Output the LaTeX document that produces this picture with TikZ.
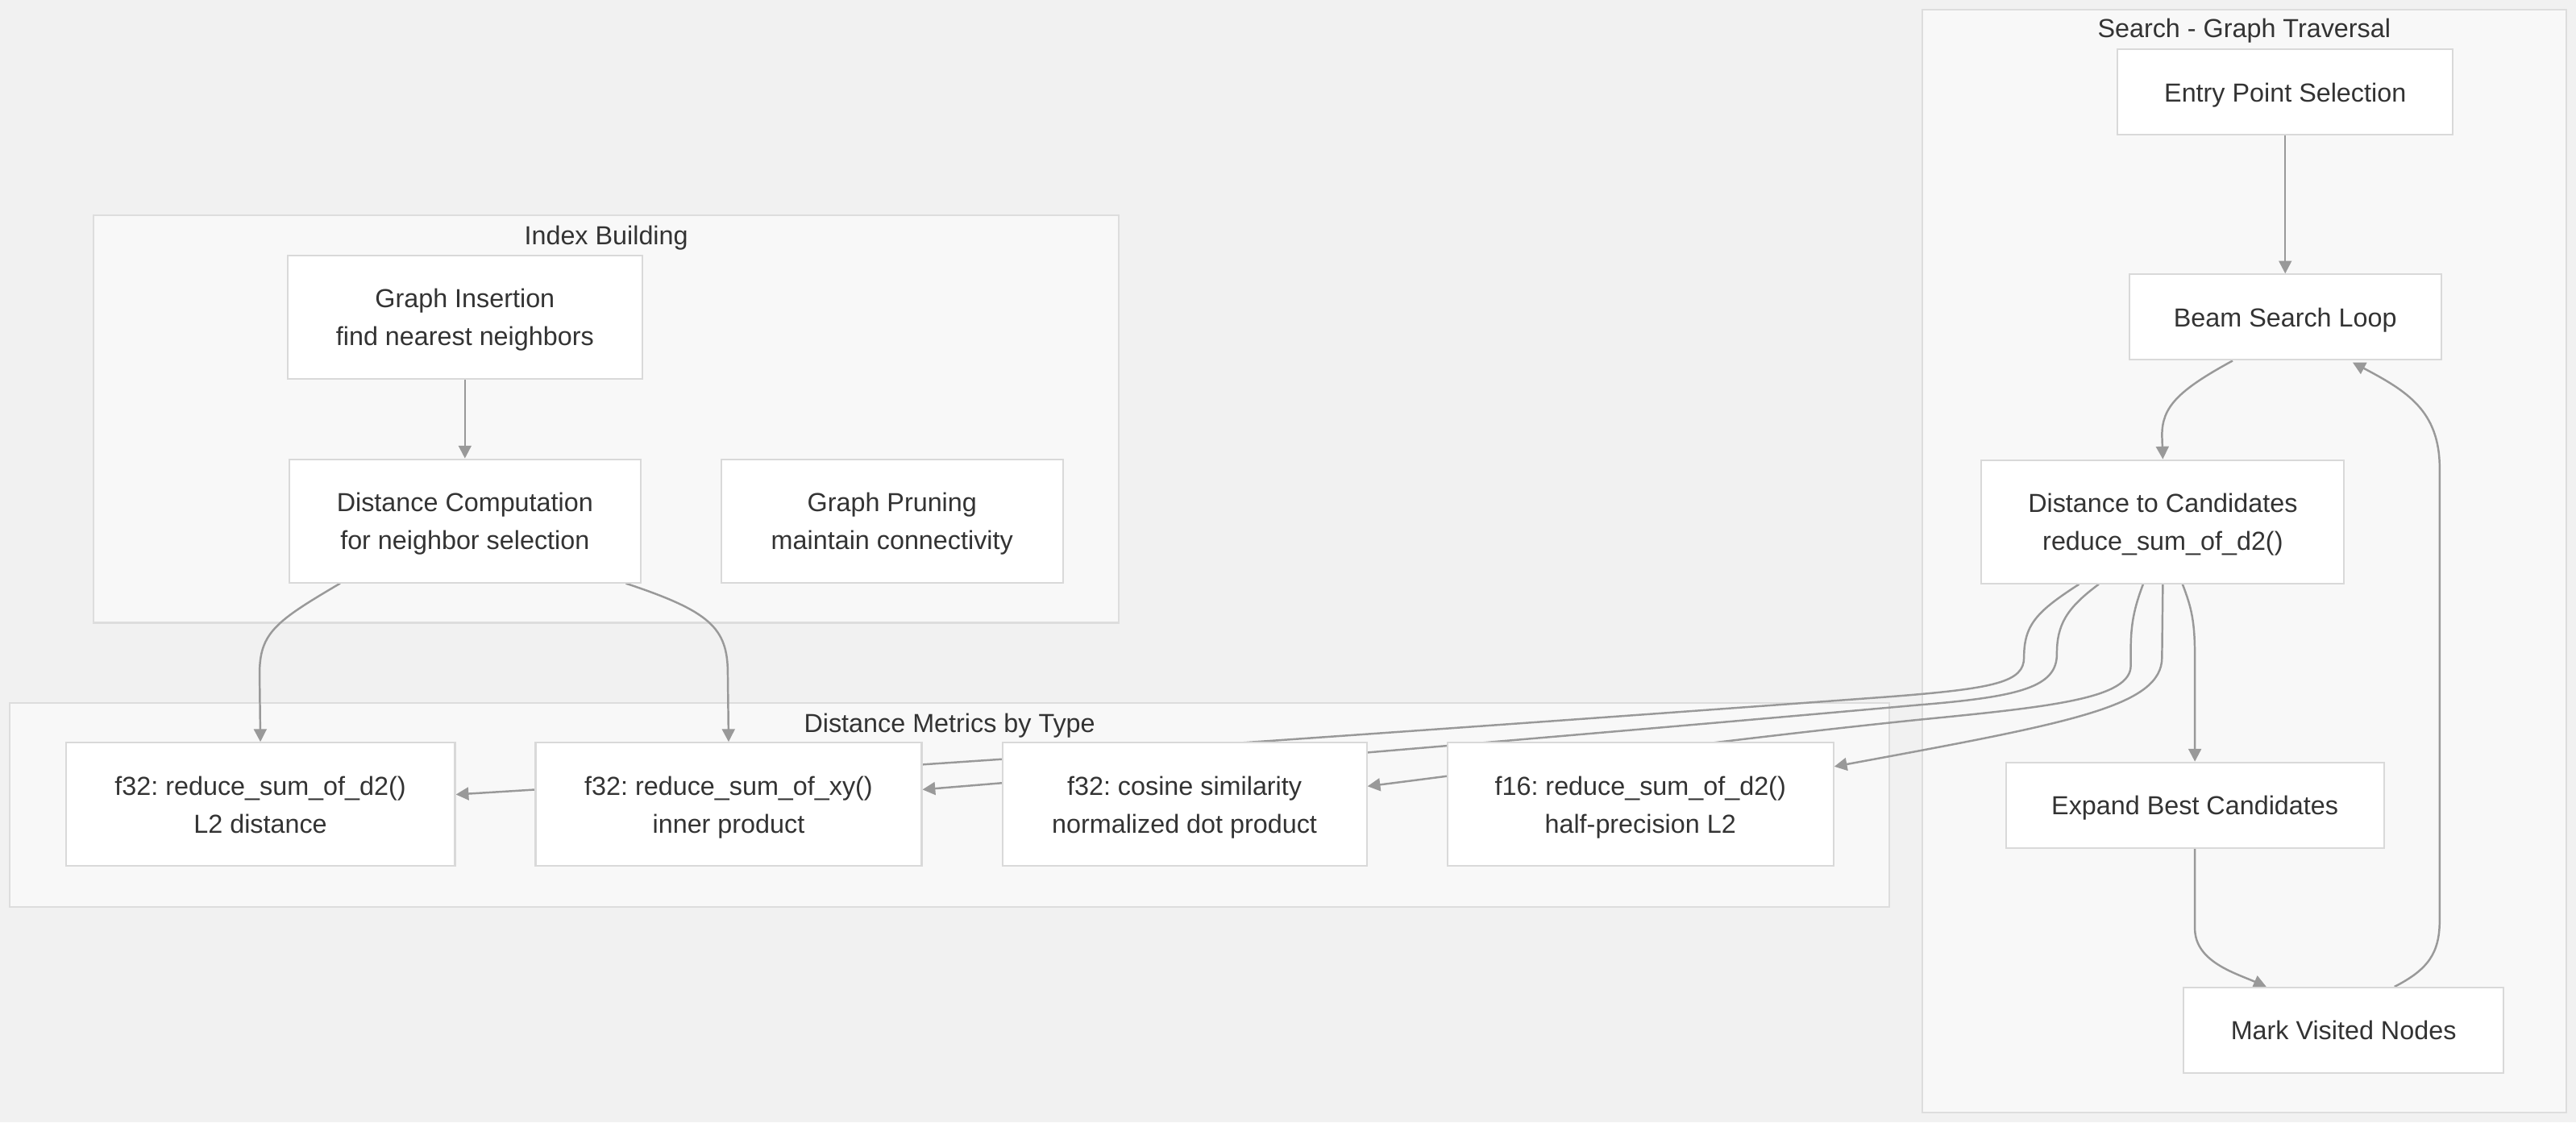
\documentclass[tikz,border=0pt]{standalone}
\usepackage{fontspec}
\setmainfont{Liberation Sans}
\usetikzlibrary{arrows.meta, calc}
\frenchspacing

\definecolor{bgcol}{HTML}{F1F1F1}
\definecolor{clfill}{HTML}{F8F8F8}
\definecolor{cldraw}{HTML}{DDDDDD}
\definecolor{boxdraw}{HTML}{D9D9D9}
\definecolor{txt}{HTML}{333333}
\definecolor{edgecol}{HTML}{999999}

\pgfdeclarelayer{bg}
\pgfdeclarelayer{edges}
\pgfsetlayers{bg,edges,main}

\begin{document}
\begin{tikzpicture}[x=0.02038cm, y=-0.02038cm,
    font={\fontsize{9.2}{13.3}\selectfont}, text=txt,
    box/.style={rectangle, draw=boxdraw, fill=white, line width=0.6pt, align=center, minimum height=1.53cm, inner sep=0pt,
        text height=21.7pt, text depth=1.6pt},
    lowbox/.style={box, minimum height=1.06cm, text height=8.4pt},
    title/.style={inner sep=0pt, text height=8.4pt, text depth=1.6pt},
    edge/.style={draw=edgecol, line width=0.7pt, -{Triangle[length=4.5pt, width=4.5pt]}},
    cluster/.style={draw=cldraw, fill=clfill, line width=0.6pt}]
    \useasboundingbox (0,0) rectangle (1568,683);

    % Clusters
    \begin{pgfonlayer}{bg}
        \fill[bgcol] (0,0) rectangle (1568,683);
        \draw[cluster] (57,131) rectangle (681,379);
        \draw[cluster] (6,428) rectangle (1150,552);
        \draw[cluster] (1170,6) rectangle (1562,677);
    \end{pgfonlayer}
    \node[title] (tidx) at (369,143) {Index Building};
    \node[title] (tmet) at (578,440) {Distance Metrics by Type};
    \node[title] (tsrch) at (1366,17) {Search - Graph Traversal};

    % Nodes
    \node[box, minimum width=4.40cm] (ins) at (283,193) {Graph Insertion\\find nearest neighbors};
    \node[box, minimum width=4.36cm] (dcomp) at (283,317) {Distance Computation\\for neighbor selection};
    \node[box, minimum width=4.24cm] (prune) at (543,317) {Graph Pruning\\maintain connectivity};

    \node[box, minimum width=4.83cm] (l2) at (158.5,489.5) {f32: reduce\_sum\_of\_d2()\\L2 distance};
    \node[box, minimum width=4.79cm] (xy) at (443.5,489.5) {f32: reduce\_sum\_of\_xy()\\inner product};
    \node[box, minimum width=4.52cm] (cos) at (721,489.5) {f32: cosine similarity\\normalized dot product};
    \node[box, minimum width=4.79cm] (f16) at (998.5,489.5) {f16: reduce\_sum\_of\_d2()\\half-precision L2};

    \node[lowbox, minimum width=4.16cm] (entry) at (1391,56) {Entry Point Selection};
    \node[lowbox, minimum width=3.87cm] (beam) at (1391,193) {Beam Search Loop};
    \node[box, minimum width=4.50cm] (dcand) at (1316.5,317.5) {Distance to Candidates\\reduce\_sum\_of\_d2()};
    \node[lowbox, minimum width=4.69cm] (expand) at (1336,490) {Expand Best Candidates};
    \node[lowbox, minimum width=3.97cm] (mark) at (1426.5,627) {Mark Visited Nodes};

    % Edges
    \begin{pgfonlayer}{edges}
    \draw[edge] (ins) -- (dcomp);
    \draw[edge] ($(dcomp.south)+(-76,0)$) .. controls (168,378) and (158,385) .. (158,410) -- (l2.north);
    \draw[edge] ($(dcomp.south)+(98,0)$) .. controls (432,372) and (443,382) .. (443,410) -- (xy.north);

    \draw[edge] (entry) -- (beam);
    \draw[edge] ($(beam.south)+(-32,0)$) .. controls (1325,238) and (1316,248) .. (1316,265) -- (dcand.north);
    \draw[edge] ($(dcand.south)+(12,0)$) .. controls (1334,370) and (1336,378) .. (1336,400) -- (expand.north);
    \draw[edge] (expand.south) -- (1336,565) .. controls (1336,585) and (1360,592) .. ($(mark.north)+(-47,0)$);
    \draw[edge] ($(mark.north)+(31,0)$) .. controls (1478,590) and (1485,580) .. (1485,560) -- (1485,285)
        .. controls (1485,250) and (1465,238) .. ($(beam.south)+(41,1)$);

    % candidates -> metrics
    \draw[edge] ($(dcand.south)+(-51,0)$) .. controls (1240,372) and (1232,380) .. (1232,400)
        .. controls (1232,415) and (1215,419) .. (1150,424)
        .. controls (850,446) and (500,470) .. ($(l2.east)+(0,-6)$);
    \draw[edge] ($(dcand.south)+(-39,0)$) .. controls (1258,370) and (1252,380) .. (1252,398)
        .. controls (1252,418) and (1230,424) .. (1168,429)
        .. controls (1000,444) and (750,465) .. ($(xy.east)+(0,-9)$);
    \draw[edge] ($(dcand.south)+(-12,0)$) .. controls (1299,370) and (1297,380) .. (1297,395) -- (1297,405)
        .. controls (1297,425) and (1250,430) .. (1168,438)
        .. controls (1050,450) and (900,470) .. ($(cos.east)+(0,-11)$);
    \draw[edge] (dcand.south) -- (1316,400) .. controls (1316,430) and (1260,440) .. ($(f16.east)+(0,-23)$);
    \end{pgfonlayer}

\end{tikzpicture}
\end{document}
